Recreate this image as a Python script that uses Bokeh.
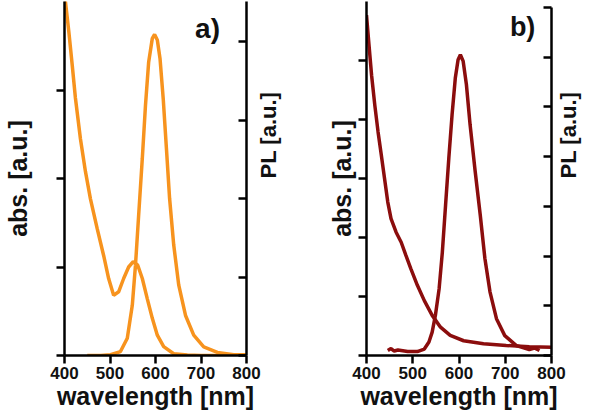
import math
from bokeh.plotting import figure
from bokeh.models import Range1d, LinearAxis, FixedTicker, Label
from bokeh.layouts import row
from bokeh.embed import file_html
from bokeh.resources import INLINE

# ---------------- data ----------------
# panel a (orange)
wl_abs_a = [400, 402, 409.5, 417, 424, 435, 446, 457, 472, 486, 497, 508, 519, 530, 541,
            551, 561, 571, 582, 593, 604, 618, 640, 670, 700, 750, 800]
abs_a = [4.1, 4.0, 3.66, 3.28, 2.91, 2.45, 2.08, 1.77, 1.43, 1.13, 0.87, 0.68, 0.72, 0.87, 1.0,
         1.06, 1.02, 0.87, 0.64, 0.42, 0.23, 0.10, 0.02, 0.005, 0.0, 0.0, 0.0]
wl_pl_a = [450, 480, 501, 523, 538, 549, 556, 563, 571, 578, 585, 593, 598, 604, 610, 617,
           624, 631, 640, 651, 666, 684, 706, 736, 772, 800]
pl_a = [0.0, 0.0, 0.01, 0.05, 0.22, 0.64, 1.15, 1.79, 2.51, 3.19, 3.74, 4.04, 4.09, 4.02, 3.78, 3.27,
        2.64, 2.0, 1.41, 0.9, 0.51, 0.26, 0.11, 0.04, 0.01, 0.01]

# panel b (dark red)
wl_abs_b = [400, 405, 411, 418, 425, 432, 439, 446, 453, 464, 475, 485, 496, 510, 525,
            542, 560, 581, 610, 653, 702, 752, 800]
abs_b = [5.77, 5.3, 4.75, 4.24, 3.79, 3.40, 3.0, 2.60, 2.32, 2.09, 1.92, 1.70, 1.47, 1.19, 0.93,
         0.68, 0.48, 0.34, 0.25, 0.20, 0.17, 0.15, 0.14]
wl_pl_b = [446, 453, 460, 468, 489, 510, 525, 535, 542, 549, 557, 564, 571, 578, 585, 592,
           598, 603, 609, 616, 624, 635, 646, 656, 667, 681, 699, 724, 738, 752, 763, 774]
pl_b = [0.10, 0.14, 0.09, 0.11, 0.08, 0.08, 0.13, 0.27, 0.47, 0.81, 1.34, 2.08, 3.03, 3.97, 4.84, 5.58,
        5.95, 6.05, 5.92, 5.45, 4.64, 3.70, 2.82, 1.95, 1.28, 0.74, 0.40, 0.20, 0.16, 0.12, 0.15, 0.10]

x_ticks = [400, 500, 600, 700, 800]
abs_ticks_a = [0, 1, 2, 3]
pl_ticks_a = [0, 1, 2, 3, 4]
abs_ticks_b = [0, 1, 2, 3, 4, 5]
pl_ticks_b = [0, 1, 2, 3, 4, 5, 6, 7]

ORANGE = "#F7931E"
DARKRED = "#8B0D0D"
FONT = "'Liberation Sans', Arial, sans-serif"
TXT = "#111111"

FRAME_H = 354
TOP_B = 1
BOT_B = 59
PL_SIZE = "22px"
PL_EXTENT = 28


def style_axis(ax, ticks, tick_in, tick_out):
    ax.ticker = FixedTicker(ticks=ticks)
    ax.axis_line_width = 2.5
    ax.axis_line_color = "black"
    ax.major_tick_line_width = 2.5
    ax.major_tick_line_color = "black"
    ax.major_tick_in = tick_in
    ax.major_tick_out = tick_out
    ax.minor_tick_line_color = None


def hide_labels(ax):
    ax.major_label_text_color = None
    ax.major_label_text_font_size = "0px"
    ax.major_label_standoff = 0


def label_style(ax, text, size, standoff):
    ax.axis_label = text
    ax.axis_label_text_font = FONT
    ax.axis_label_text_font_size = size
    ax.axis_label_text_font_style = "bold"
    ax.axis_label_text_color = TXT
    ax.axis_label_standoff = standoff


def make_panel(tag, color, wl_abs, abs_v, wl_pl, pl_v, y_end, pl_end, pl_bound,
               ticks_abs, ticks_pl, border_left, frame_w,
               left_standoff, right_standoff, tag_x, tag_y, tag_size):
    p = figure(frame_width=frame_w, frame_height=FRAME_H,
               min_border_left=border_left,
               min_border_right=right_standoff + PL_EXTENT,
               min_border_top=TOP_B, min_border_bottom=BOT_B,
               x_range=Range1d(400, 800), y_range=Range1d(0, y_end),
               toolbar_location=None, output_backend="svg")
    p.outline_line_color = None
    p.xgrid.visible = False
    p.ygrid.visible = False
    p.background_fill_color = "white"
    p.border_fill_color = "white"

    p.extra_y_ranges = {"pl": Range1d(0, pl_end)}
    rax = LinearAxis(y_range_name="pl")
    p.add_layout(rax, "right")

    xa = p.xaxis[0]
    style_axis(xa, x_ticks, 0, 8)
    xa.major_label_text_font = FONT
    xa.major_label_text_font_size = "17px"
    xa.major_label_text_font_style = "bold"
    xa.major_label_text_color = TXT
    xa.major_label_standoff = 3
    label_style(xa, "wavelength [nm]", "25px", 0)

    ya = p.yaxis[0]
    style_axis(ya, ticks_abs, 0, 8)
    hide_labels(ya)
    label_style(ya, "abs. [a.u.]", "25px", left_standoff)

    style_axis(rax, ticks_pl, 8, 0)
    rax.bounds = (0, pl_bound)
    hide_labels(rax)
    label_style(rax, "PL [a.u.]", PL_SIZE, right_standoff)
    rax.axis_label_orientation = math.pi / 2

    p.line(wl_abs, abs_v, line_color=color, line_width=3.5)
    p.line(wl_pl, pl_v, line_color=color, line_width=3.5, y_range_name="pl")

    p.add_layout(Label(x=tag_x, y=tag_y, text=tag, text_align="left",
                       text_baseline="alphabetic", text_font=FONT,
                       text_font_size=tag_size, text_font_style="bold",
                       text_color=TXT))
    return p


pa = make_panel("a)", ORANGE, wl_abs_a, abs_a, wl_pl_a, pl_a, 4.0, 4.51, 4.51,
                abs_ticks_a, pl_ticks_a, 62, 182, 25, 22, 687, 3.69, "28px")
pb = make_panel("b)", DARKRED, wl_abs_b, abs_b, wl_pl_b, pl_b, 6.0, 7.12, 7,
                abs_ticks_b, pl_ticks_b, 70, 185, 3, 17, 710, 5.56, "27px")

layout = row(pa, pb)
open("out.html", "w").write(file_html(layout, INLINE))
